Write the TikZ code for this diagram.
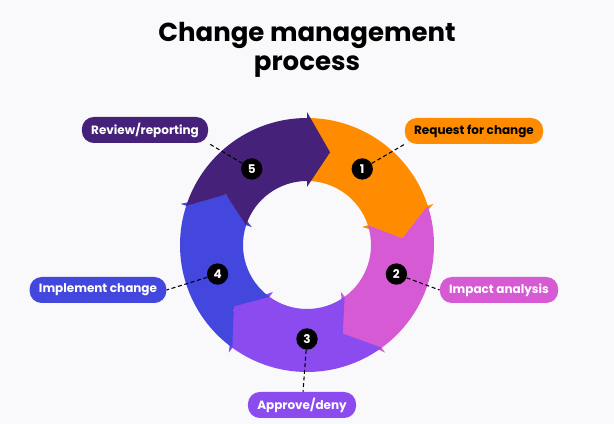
\documentclass[tikz,border=0pt]{standalone}
\usepackage{fontspec}
\setmainfont{Poppins}
\usetikzlibrary{positioning,calc}
\definecolor{cmorange}{HTML}{FF8C00}
\definecolor{cmpink}{HTML}{D55AD3}
\definecolor{cmviolet}{HTML}{8B4BEE}
\definecolor{cmblue}{HTML}{4447DD}
\definecolor{cmdark}{HTML}{46217A}
\definecolor{cmback}{HTML}{F9F9FB}
\tikzset{
  pill/.style={rounded corners=9pt, minimum height=19.5pt, inner xsep=7pt, font=\fontsize{9}{10}\selectfont\bfseries, text=white},
  numdot/.style={circle, fill=black, minimum size=16pt, inner sep=0pt, text=white, font=\fontsize{9}{10}\selectfont\bfseries},
  leader/.style={densely dashed, thick}
}
\begin{document}
\begin{tikzpicture}[x=0.75pt,y=0.75pt]
    \fill[cmback] (0,0) rectangle (614,424);
    \useasboundingbox (0,0) rectangle (614,424);
    % Title
    \node[font=\fontsize{19.5}{22}\selectfont\bfseries, align=center] (title) at (307,374) {Change management\\process};
    % Ring of arrows
    \begin{scope}[shift={(307,179)}]
        \foreach \s/\col in {90/cmorange,18/cmpink,-54/cmviolet,-126/cmblue,162/cmdark} {
            \pgfmathsetmacro{\e}{\s-72}
            \pgfmathsetmacro{\t}{\s-86}
            \pgfmathsetmacro{\n}{\s-14}
            \fill[\col] (\s:127) arc[start angle=\s, end angle=\e, radius=127]
                -- (\e:133) -- (\t:95.5) -- (\e:58) -- (\e:64)
                arc[start angle=\e, end angle=\s, radius=64] -- (\n:95.5) -- cycle;
        }
        \foreach \i/\a in {1/54,2/-18,3/-90,4/-162,5/126} {
            \node[numdot] (c\i) at (\a:94) {\i};
        }
    \end{scope}
    % Labels
    \node[pill, fill=cmorange, text=black] (request) at (474,293) {Request for change};
    \node[pill, fill=cmpink] (impact) at (499,134) {Impact analysis};
    \node[pill, fill=cmviolet] (approve) at (302,19) {Approve/deny};
    \node[pill, fill=cmblue] (implement) at (98,134) {Implement change};
    \node[pill, fill=cmdark] (review) at (145,294) {Review/reporting};
    % Leaders
    \draw[leader] (c1) -- (request.south west);
    \draw[leader] (c2) -- (impact.west);
    \draw[leader] (c3) -- (approve);
    \draw[leader] (c4) -- (implement.east);
    \draw[leader] (c5) -- (review.south east);
\end{tikzpicture}
\end{document}
